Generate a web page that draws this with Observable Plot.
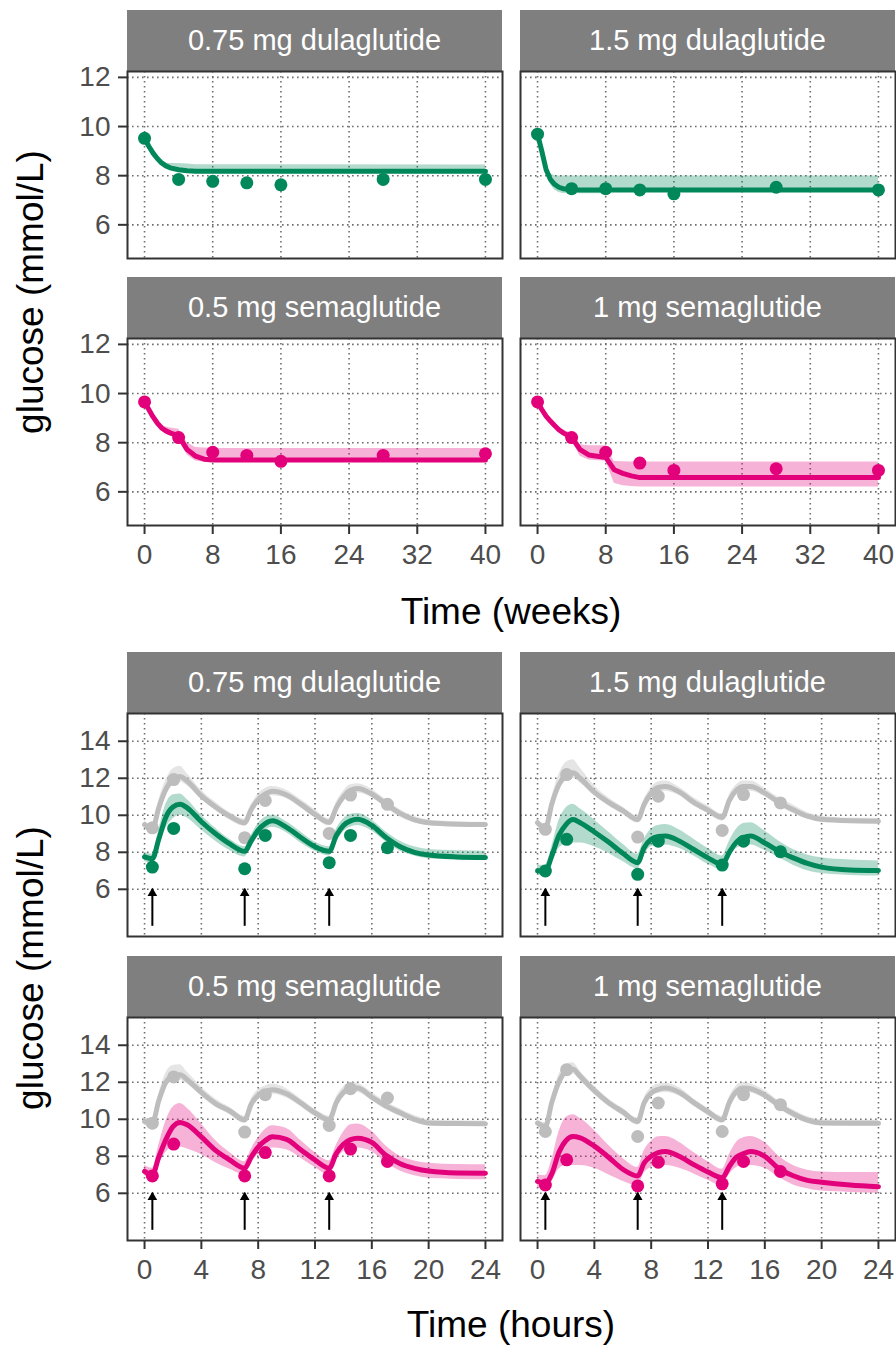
<!DOCTYPE html>
<html><head><meta charset="utf-8">
<script src="https://cdn.jsdelivr.net/npm/d3@7"></script>
<script src="https://cdn.jsdelivr.net/npm/@observablehq/plot@0.6"></script>
<style>
body{margin:0;background:#fff;}
#root{position:relative;width:896px;height:1349px;background:#fff;font-family:"Liberation Sans",Arial,sans-serif;overflow:hidden;}
.strip{position:absolute;background:#7f7f7f;color:#fff;font-size:29px;display:flex;align-items:center;justify-content:center;white-space:nowrap;}
.panel{position:absolute;}
.panel svg{overflow:visible;}
.panel svg text{font-size:28px !important;font-family:"Liberation Sans",Arial,sans-serif;}
.title{position:absolute;font-size:37px;color:#000;white-space:nowrap;line-height:1;}
</style></head><body><div id="root"></div>
<script>
// ---------------- DATA ----------------
const panelNames = ["0.75 mg dulaglutide", "1.5 mg dulaglutide", "0.5 mg semaglutide", "1 mg semaglutide"];
const weekTicks = [0, 8, 16, 24, 32, 40];
const hourTicks = [0, 4, 8, 12, 16, 20, 24];
const weekYTicks = [6, 8, 10, 12];
const hourYTicks = [6, 8, 10, 12, 14];

// Time (weeks) panels
const obsWeeks = [0, 4, 8, 12, 16, 28, 40];
const wObs_d075 = [9.52, 7.85, 7.77, 7.71, 7.63, 7.85, 7.85];
const wObs_d15  = [9.69, 7.47, 7.47, 7.42, 7.26, 7.53, 7.42];
const wObs_s05  = [9.66, 8.21, 7.61, 7.48, 7.24, 7.48, 7.55];
const wObs_s1   = [9.66, 8.21, 7.61, 7.17, 6.87, 6.94, 6.87];

const weekGrid = [0, 0.5, 1, 1.5, 2, 2.5, 3, 4, 5, 6, 7, 8, 9, 10, 11, 12, 16, 40];
const wMid_d075 = [9.52, 9.2, 8.92, 8.7, 8.52, 8.4, 8.32, 8.24, 8.2, 8.18, 8.18, 8.18, 8.18, 8.18, 8.18, 8.18, 8.18, 8.18];
const wLo_d075  = [9.45, 9.12, 8.84, 8.62, 8.44, 8.32, 8.24, 8.16, 8.12, 8.1, 8.1, 8.1, 8.1, 8.1, 8.1, 8.1, 8.1, 8.1];
const wHi_d075  = [9.6, 9.3, 9.02, 8.8, 8.62, 8.52, 8.5, 8.5, 8.48, 8.45, 8.45, 8.45, 8.45, 8.45, 8.45, 8.45, 8.45, 8.43];
const wMid_d15 = [9.69, 9.0, 8.25, 7.85, 7.65, 7.53, 7.47, 7.43, 7.42, 7.42, 7.42, 7.42, 7.42, 7.42, 7.42, 7.42, 7.42, 7.42];
const wLo_d15  = [9.6, 8.9, 8.1, 7.65, 7.42, 7.32, 7.28, 7.26, 7.26, 7.26, 7.26, 7.27, 7.36, 7.36, 7.36, 7.36, 7.36, 7.36];
const wHi_d15  = [9.75, 9.12, 8.42, 8.1, 8.0, 7.99, 7.99, 7.99, 7.99, 7.99, 7.99, 7.99, 7.99, 7.99, 7.99, 7.99, 7.99, 7.99];
const wMid_s05 = [9.66, 9.35, 9.05, 8.8, 8.6, 8.48, 8.4, 8.28, 7.72, 7.45, 7.33, 7.3, 7.3, 7.3, 7.3, 7.3, 7.3, 7.3];
const wLo_s05  = [9.6, 9.28, 8.97, 8.7, 8.5, 8.36, 8.28, 8.12, 7.5, 7.25, 7.2, 7.2, 7.2, 7.2, 7.2, 7.2, 7.2, 7.2];
const wHi_s05  = [9.72, 9.42, 9.13, 8.9, 8.72, 8.64, 8.6, 8.55, 8.0, 7.8, 7.78, 7.77, 7.76, 7.76, 7.76, 7.76, 7.76, 7.76];
const wMid_s1 = [9.66, 9.35, 9.08, 8.88, 8.7, 8.53, 8.4, 8.22, 7.72, 7.5, 7.45, 7.4, 6.9, 6.75, 6.65, 6.58, 6.58, 6.58];
const wLo_s1  = [9.6, 9.28, 9.0, 8.78, 8.6, 8.43, 8.3, 8.1, 7.45, 7.3, 7.27, 7.25, 6.35, 6.25, 6.22, 6.2, 6.2, 6.2];
const wHi_s1  = [9.72, 9.42, 9.15, 8.96, 8.8, 8.65, 8.52, 8.38, 7.92, 7.88, 7.88, 7.88, 7.23, 7.22, 7.21, 7.21, 7.21, 7.21];

// Time (hours) panels
const obsHours = [0.55, 2.05, 7.05, 8.5, 13.0, 14.5, 17.1];
const doseHours = [0.55, 7.05, 13.0];
const doseArrowBase = 4.0, doseArrowTip = 6.0;
const hGreyObs_d075 = [9.32, 11.93, 8.79, 10.8, 9.02, 11.09, 10.59];
const hObs_d075     = [7.2, 9.29, 7.11, 8.91, 7.44, 8.91, 8.25];
const hGreyObs_d15  = [9.24, 12.2, 8.82, 11.03, 9.18, 11.12, 10.67];
const hObs_d15      = [6.99, 8.7, 6.81, 8.6, 7.31, 8.6, 8.03];
const hGreyObs_s05  = [9.79, 12.29, 9.31, 11.33, 9.67, 11.65, 11.15];
const hObs_s05      = [6.94, 8.66, 6.94, 8.2, 6.94, 8.39, 7.72];
const hGreyObs_s1   = [9.34, 12.68, 9.07, 10.88, 9.34, 11.33, 10.79];
const hObs_s1       = [6.45, 7.81, 6.4, 7.68, 6.51, 7.72, 7.18];

const hourGrid = [0, 0.55, 1, 1.5, 2, 2.5, 3, 4, 5, 6, 7.05, 7.5, 8, 8.5, 9, 10, 11, 12, 13, 13.5, 14, 14.5, 15, 16, 17, 18, 19, 20, 22, 24];
// 0.75 mg dulaglutide
const hGreyMid_d075 = [9.5, 9.25, 10.4, 11.4, 11.95, 12.1, 11.85, 11.05, 10.45, 9.95, 9.6, 10.3, 10.85, 11.15, 11.3, 11.1, 10.6, 10.05, 9.62, 10.4, 11.0, 11.35, 11.45, 11.15, 10.6, 10.1, 9.75, 9.6, 9.52, 9.5];
const hGreyLo_d075  = [9.3, 9.05, 10.1, 11.1, 11.6, 11.8, 11.6, 10.85, 10.25, 9.75, 9.4, 10.05, 10.6, 10.9, 11.05, 10.9, 10.4, 9.85, 9.42, 10.15, 10.75, 11.1, 11.2, 10.95, 10.4, 9.9, 9.6, 9.45, 9.4, 9.38];
const hGreyHi_d075  = [9.7, 9.45, 10.8, 11.9, 12.5, 12.65, 12.25, 11.35, 10.7, 10.15, 9.8, 10.55, 11.15, 11.45, 11.55, 11.35, 10.85, 10.3, 9.82, 10.7, 11.3, 11.65, 11.7, 11.4, 10.85, 10.3, 9.95, 9.75, 9.65, 9.62];
const hMid_d075 = [7.75, 7.65, 8.7, 9.9, 10.45, 10.6, 10.4, 9.65, 9.0, 8.45, 8.05, 8.6, 9.2, 9.55, 9.7, 9.35, 8.8, 8.3, 8.05, 8.9, 9.45, 9.7, 9.78, 9.45, 8.8, 8.3, 8.0, 7.85, 7.75, 7.72];
const hLo_d075  = [7.5, 7.4, 8.3, 9.3, 9.8, 10.0, 9.85, 9.2, 8.6, 8.1, 7.75, 8.3, 8.85, 9.2, 9.35, 9.05, 8.5, 8.05, 7.8, 8.55, 9.1, 9.35, 9.45, 9.15, 8.55, 8.05, 7.8, 7.65, 7.58, 7.55];
const hHi_d075  = [8.0, 7.9, 9.2, 10.6, 11.1, 11.15, 10.85, 10.0, 9.3, 8.7, 8.3, 8.9, 9.55, 9.9, 10.0, 9.65, 9.1, 8.55, 8.3, 9.25, 9.8, 10.05, 10.1, 9.75, 9.1, 8.6, 8.3, 8.15, 8.08, 8.05];
// 1.5 mg dulaglutide
const hGreyMid_d15 = [9.6, 9.3, 10.6, 11.65, 12.15, 12.3, 12.0, 11.25, 10.7, 10.25, 9.77, 10.58, 11.2, 11.5, 11.55, 11.25, 10.7, 10.28, 9.88, 10.8, 11.35, 11.55, 11.55, 11.2, 10.7, 10.3, 9.95, 9.78, 9.7, 9.68];
const hGreyLo_d15  = [9.4, 9.1, 10.3, 11.35, 11.85, 12.0, 11.75, 11.05, 10.5, 10.05, 9.57, 10.35, 10.95, 11.25, 11.3, 11.05, 10.5, 10.08, 9.68, 10.55, 11.1, 11.3, 11.3, 11.0, 10.5, 10.1, 9.8, 9.62, 9.55, 9.53];
const hGreyHi_d15  = [9.8, 9.5, 10.95, 12.2, 12.85, 13.0, 12.55, 11.6, 10.95, 10.45, 9.97, 10.85, 11.5, 11.8, 11.85, 11.5, 10.95, 10.5, 10.08, 11.1, 11.65, 11.85, 11.85, 11.45, 10.95, 10.55, 10.15, 9.95, 9.85, 9.83];
const hMid_d15 = [7.0, 6.99, 7.8, 8.9, 9.5, 9.77, 9.6, 9.1, 8.55, 7.95, 7.44, 8.25, 8.7, 8.85, 8.88, 8.6, 8.15, 7.7, 7.35, 8.0, 8.55, 8.8, 8.88, 8.5, 8.05, 7.7, 7.4, 7.2, 7.05, 7.02];
const hLo_d15  = [6.75, 6.75, 7.4, 8.2, 8.45, 8.5, 8.5, 8.3, 7.95, 7.5, 7.1, 7.85, 8.3, 8.4, 8.4, 8.2, 7.8, 7.35, 7.05, 7.7, 8.2, 8.35, 8.4, 8.1, 7.7, 7.3, 7.0, 6.85, 6.75, 6.72];
const hHi_d15  = [7.3, 7.3, 8.3, 9.7, 10.4, 10.6, 10.35, 9.75, 9.1, 8.45, 7.9, 8.7, 9.25, 9.45, 9.5, 9.2, 8.7, 8.2, 7.8, 8.6, 9.25, 9.55, 9.6, 9.15, 8.6, 8.15, 7.85, 7.7, 7.58, 7.53];
// 0.5 mg semaglutide
const hGreyMid_s05 = [9.88, 9.79, 11.0, 12.0, 12.35, 12.4, 12.14, 11.45, 10.85, 10.45, 9.97, 10.8, 11.3, 11.5, 11.6, 11.38, 10.88, 10.35, 9.97, 10.9, 11.45, 11.69, 11.69, 11.2, 10.72, 10.35, 10.0, 9.8, 9.77, 9.76];
const hGreyLo_s05  = [9.68, 9.59, 10.75, 11.7, 12.05, 12.1, 11.9, 11.25, 10.65, 10.25, 9.77, 10.55, 11.05, 11.25, 11.35, 11.15, 10.68, 10.15, 9.77, 10.65, 11.2, 11.45, 11.45, 11.0, 10.52, 10.15, 9.82, 9.65, 9.62, 9.61];
const hGreyHi_s05  = [10.08, 9.99, 11.35, 12.5, 12.9, 12.95, 12.55, 11.75, 11.1, 10.65, 10.17, 11.1, 11.6, 11.8, 11.9, 11.65, 11.1, 10.55, 10.17, 11.2, 11.75, 12.0, 11.95, 11.45, 10.95, 10.55, 10.2, 9.98, 9.92, 9.91];
const hMid_s05 = [7.18, 7.0, 7.95, 8.9, 9.6, 9.83, 9.7, 9.05, 8.32, 7.8, 7.36, 7.95, 8.5, 8.85, 9.05, 8.92, 8.35, 7.8, 7.36, 8.15, 8.65, 8.9, 8.98, 8.75, 8.05, 7.6, 7.35, 7.2, 7.1, 7.09];
const hLo_s05  = [6.95, 6.8, 7.55, 8.2, 8.5, 8.5, 8.4, 8.1, 7.65, 7.3, 7.0, 7.6, 8.1, 8.35, 8.45, 8.35, 7.9, 7.4, 7.0, 7.8, 8.25, 8.4, 8.45, 8.25, 7.65, 7.2, 6.95, 6.82, 6.75, 6.73];
const hHi_s05  = [7.5, 7.35, 8.6, 9.9, 10.65, 10.85, 10.6, 9.75, 8.85, 8.2, 7.7, 8.35, 9.0, 9.45, 9.65, 9.5, 8.85, 8.2, 7.75, 8.6, 9.3, 9.7, 9.75, 9.35, 8.55, 8.0, 7.75, 7.62, 7.55, 7.54];
// 1 mg semaglutide
const hGreyMid_s1 = [9.79, 9.61, 10.9, 12.0, 12.6, 12.7, 12.32, 11.55, 10.9, 10.4, 9.88, 10.88, 11.42, 11.62, 11.69, 11.45, 10.9, 10.4, 9.97, 10.9, 11.5, 11.69, 11.65, 11.3, 10.75, 10.3, 9.95, 9.8, 9.79, 9.79];
const hGreyLo_s1  = [9.59, 9.41, 10.65, 11.75, 12.35, 12.45, 12.1, 11.35, 10.7, 10.2, 9.68, 10.65, 11.2, 11.4, 11.45, 11.25, 10.7, 10.2, 9.77, 10.65, 11.25, 11.45, 11.42, 11.1, 10.55, 10.1, 9.78, 9.65, 9.64, 9.64];
const hGreyHi_s1  = [9.99, 9.81, 11.2, 12.4, 12.95, 13.05, 12.6, 11.8, 11.1, 10.6, 10.08, 11.15, 11.7, 11.9, 11.95, 11.7, 11.1, 10.6, 10.17, 11.2, 11.8, 12.0, 11.92, 11.55, 10.98, 10.5, 10.15, 9.98, 9.95, 9.95];
const hMid_s1 = [6.64, 6.55, 7.05, 8.2, 8.85, 9.07, 9.0, 8.55, 7.95, 7.3, 6.94, 7.63, 8.0, 8.2, 8.26, 7.99, 7.55, 7.15, 6.84, 7.45, 7.95, 8.15, 8.26, 8.0, 7.32, 6.95, 6.7, 6.6, 6.45, 6.36];
const hLo_s1  = [6.3, 6.2, 6.6, 7.3, 7.5, 7.5, 7.5, 7.35, 7.0, 6.65, 6.4, 7.1, 7.4, 7.5, 7.5, 7.35, 7.05, 6.7, 6.4, 7.0, 7.4, 7.5, 7.5, 7.35, 6.85, 6.45, 6.25, 6.12, 6.05, 6.0];
const hHi_s1  = [7.0, 6.95, 7.8, 9.3, 10.1, 10.25, 10.05, 9.4, 8.6, 7.9, 7.4, 8.3, 8.8, 9.05, 9.07, 8.75, 8.2, 7.7, 7.3, 8.1, 8.75, 9.0, 9.07, 8.75, 8.0, 7.5, 7.25, 7.15, 7.12, 7.12];

// ---------------- STYLE ----------------
const GREEN = "#00875A", PINK = "#E3007B", GREY = "#BDBDBD";
const drugColors = [GREEN, GREEN, PINK, PINK];
const gridColor = "#6e6e6e";
const root = document.getElementById("root");

function rows(xs, cols) {
  return xs.map((x, i) => { const o = {x}; for (const k in cols) o[k] = cols[k][i]; return o; });
}

function panel({left, top, w, h, xDomain, yDomain, xTicks, yTicks, showX, showY, layers}) {
  const ml = showY ? 100 : 0, mb = showX ? 56 : 0;
  const marks = [
    Plot.ruleX(xTicks, {x: d => d, stroke: gridColor, strokeWidth: 1.6, strokeDasharray: "1.6,3.4"}),
    Plot.ruleY(yTicks, {y: d => d, stroke: gridColor, strokeWidth: 1.6, strokeDasharray: "1.6,3.4"}),
    ...layers,
    Plot.frame({stroke: "#333", strokeWidth: 2})
  ];
  if (showY) marks.push(Plot.axisY(yTicks, {tickSize: 9, tickPadding: 8, fontSize: 28, color: "#4d4d4d", stroke: "#333", strokeWidth: 2, label: null}));
  if (showX) marks.push(Plot.axisX(xTicks, {tickSize: 9, tickPadding: 10, fontSize: 28, color: "#4d4d4d", stroke: "#333", strokeWidth: 2, label: null}));
  const chart = Plot.plot({
    width: w + ml, height: h + mb,
    marginLeft: ml, marginRight: 0, marginTop: 0, marginBottom: mb,
    x: showX ? {domain: xDomain} : {domain: xDomain, axis: null},
    y: showY ? {domain: yDomain} : {domain: yDomain, axis: null},
    style: {fontFamily: '"Liberation Sans", Arial, sans-serif', fontSize: "28px", overflow: "visible", background: "transparent"},
    marks
  });
  const d = document.createElement("div");
  d.className = "panel";
  d.style.left = (left - ml) + "px";
  d.style.top = top + "px";
  d.appendChild(chart);
  root.appendChild(d);
}

function strip(left, top, w, h, text) {
  const s = document.createElement("div");
  s.className = "strip";
  Object.assign(s.style, {left: left + "px", top: top + "px", width: w + "px", height: h + "px"});
  s.textContent = text;
  root.appendChild(s);
}

function title(text, x, y, rotate) {
  const t = document.createElement("div");
  t.className = "title";
  t.textContent = text;
  t.style.left = x + "px";
  t.style.top = y + "px";
  t.style.transform = rotate ? "translate(-50%,-50%) rotate(-90deg)" : "translateX(-50%)";
  root.appendChild(t);
}

function bandLayers(data, color, op, curve) {
  return [
    Plot.areaY(data, {x: "x", y1: "lo", y2: "hi", fill: color, fillOpacity: op, curve}),
    Plot.line(data, {x: "x", y: "mid", stroke: color, strokeWidth: 5, curve})
  ];
}

const colLeft = [127, 520], W = 375, SH = 61;

// ---------------- WEEKS GRID ----------------
const weekSets = [
  [wMid_d075, wLo_d075, wHi_d075, wObs_d075],
  [wMid_d15, wLo_d15, wHi_d15, wObs_d15],
  [wMid_s05, wLo_s05, wHi_s05, wObs_s05],
  [wMid_s1, wLo_s1, wHi_s1, wObs_s1]
];
const weekStripTop = [10, 277], weekH = 187;
weekSets.forEach(([mid, lo, hi, obs], i) => {
  const r = Math.floor(i / 2), c = i % 2;
  const col = drugColors[i];
  strip(colLeft[c], weekStripTop[r], W, SH, panelNames[i]);
  panel({
    left: colLeft[c], top: weekStripTop[r] + SH, w: W, h: weekH,
    xDomain: [-2, 42], yDomain: [4.63, 12.24], xTicks: weekTicks, yTicks: weekYTicks,
    showX: r === 1, showY: c === 0,
    layers: [
      ...bandLayers(rows(weekGrid, {mid, lo, hi}), col, 0.3, "linear"),
      Plot.dot(rows(obsWeeks, {v: obs}), {x: "x", y: "v", r: 6.5, fill: col})
    ]
  });
});

// ---------------- HOURS GRID ----------------
const hourSets = [
  [hGreyMid_d075, hGreyLo_d075, hGreyHi_d075, hGreyObs_d075, hMid_d075, hLo_d075, hHi_d075, hObs_d075],
  [hGreyMid_d15, hGreyLo_d15, hGreyHi_d15, hGreyObs_d15, hMid_d15, hLo_d15, hHi_d15, hObs_d15],
  [hGreyMid_s05, hGreyLo_s05, hGreyHi_s05, hGreyObs_s05, hMid_s05, hLo_s05, hHi_s05, hObs_s05],
  [hGreyMid_s1, hGreyLo_s1, hGreyHi_s1, hGreyObs_s1, hMid_s1, hLo_s1, hHi_s1, hObs_s1]
];
const hourStripTop = [652, 956], hourH = 223;
hourSets.forEach(([gm, gl, gh, go, m, lo, hi, o], i) => {
  const r = Math.floor(i / 2), c = i % 2;
  const col = drugColors[i];
  strip(colLeft[c], hourStripTop[r], W, SH, panelNames[i]);
  panel({
    left: colLeft[c], top: hourStripTop[r] + SH, w: W, h: hourH,
    xDomain: [-1.2, 25.2], yDomain: [3.45, 15.5], xTicks: hourTicks, yTicks: hourYTicks,
    showX: r === 1, showY: c === 0,
    layers: [
      ...bandLayers(rows(hourGrid, {mid: gm, lo: gl, hi: gh}), GREY, 0.4, "monotone-x"),
      Plot.dot(rows(obsHours, {v: go}), {x: "x", y: "v", r: 6.5, fill: GREY}),
      ...bandLayers(rows(hourGrid, {mid: m, lo, hi}), col, 0.3, "monotone-x"),
      Plot.dot(rows(obsHours, {v: o}), {x: "x", y: "v", r: 6.5, fill: col}),
      Plot.ruleX(doseHours, {x: d => d, y1: doseArrowBase, y2: doseArrowTip, stroke: "#000", strokeWidth: 2}),
      Plot.dot(doseHours, {x: d => d, y: doseArrowTip, dy: 4, symbol: "triangle", r: 3.6, fill: "#000"})
    ]
  });
});

// ---------------- TITLES ----------------
title("glucose (mmol/L)", 30, 292, true);
title("glucose (mmol/L)", 30, 968, true);
title("Time (weeks)", 511, 593, false);
title("Time (hours)", 511, 1306, false);
</script></body></html>
